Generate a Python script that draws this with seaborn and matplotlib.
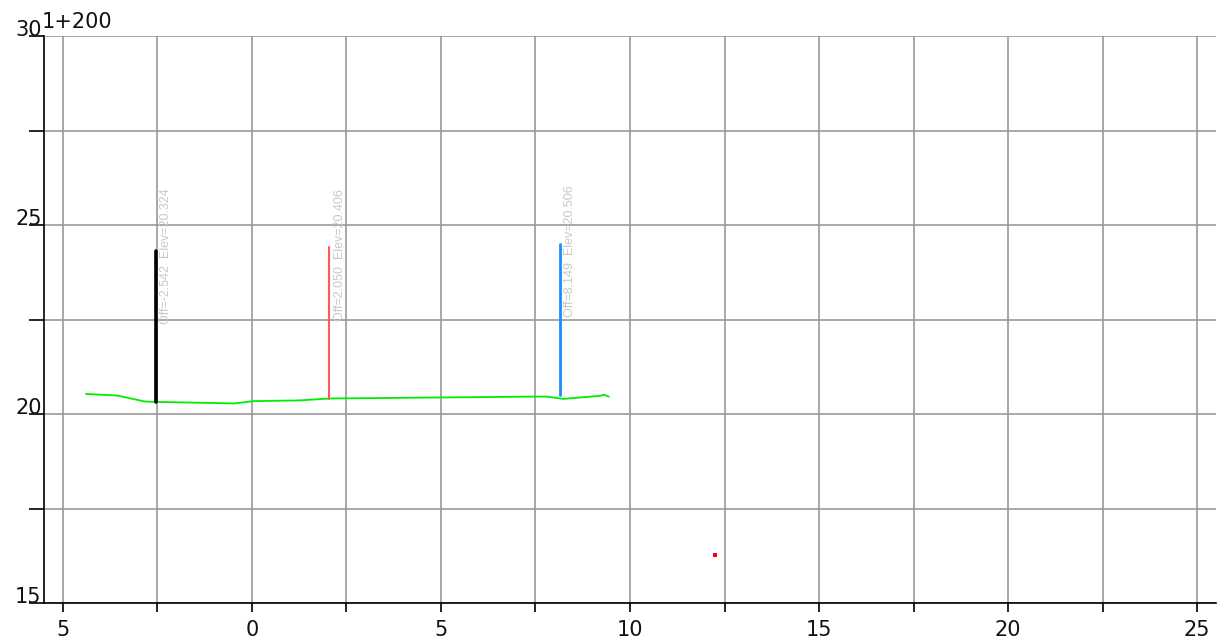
import matplotlib
matplotlib.use("Agg")
import matplotlib.pyplot as plt
import matplotlib.transforms as mtransforms
import seaborn as sns
import pandas as pd

# ---- data ----
station = "1+200"
ground_off = [-4.39, -3.57, -2.83, -2.54, -0.45, 0.03, 1.27, 2.05, 7.43, 7.80, 8.23, 9.21, 9.31, 9.44]
ground_elev = [20.53, 20.49, 20.33, 20.32, 20.28, 20.34, 20.36, 20.41, 20.46, 20.46, 20.40, 20.48, 20.51, 20.46]
marker_off = [-2.542, 2.050, 8.149]
marker_elev = [20.324, 20.406, 20.506]
marker_height = [4.0, 4.0, 4.0]
marker_colors = ["#000000", "#ff5a5a", "#1a8cff"]
marker_widths = [2.6, 1.5, 2.0]
point_off = [12.25]
point_elev = [16.27]
x_ticks = [-5, -2.5, 0, 2.5, 5, 7.5, 10, 12.5, 15, 17.5, 20, 22.5, 25]
x_labels = ["5", "", "0", "", "5", "", "10", "", "15", "", "20", "", "25"]
y_ticks = [15, 17.5, 20, 22.5, 25, 27.5, 30]
y_labels = ["15", "", "20", "", "25", "", "30"]

sns.set_style("white")
plt.rcParams["font.family"] = ["DejaVu Sans"]
plt.rcParams["text.color"] = "#111111"
plt.rcParams["xtick.color"] = "#111111"

fig = plt.figure(figsize=(12.24, 6.42), dpi=100)
ax = fig.add_axes([44 / 1224, 39 / 642, (1216 - 44) / 1224, (603 - 36) / 642])

ax.set_xlim(-5.5, 25.5)
ax.set_ylim(15, 30)

# grid
for xv in x_ticks:
    ax.axvline(xv, color="#999999", lw=1.2, zorder=0)
for yv in y_ticks:
    ax.axhline(yv, color="#999999", lw=1.2, zorder=0)

# ground line
gdf = pd.DataFrame({"off": ground_off, "elev": ground_elev})
sns.lineplot(data=gdf, x="off", y="elev", sort=False, estimator=None,
             color="#00ee00", lw=1.3, ax=ax, zorder=3)

# vertical markers with labels
for o, e, h, c, w in zip(marker_off, marker_elev, marker_height, marker_colors, marker_widths):
    vdf = pd.DataFrame({"off": [o, o], "elev": [e, e + h]})
    sns.lineplot(data=vdf, x="off", y="elev", sort=False, estimator=None,
                 color=c, lw=w, ax=ax, zorder=4)
    ax.text(o + 0.27, e + 2.05, f"Off={o:.3f}  Elev={e:.3f}", rotation=90,
            ha="center", va="bottom", fontsize=9, color="#c8c8c8", zorder=5,
            family="Liberation Sans")

ax.scatter(point_off, point_elev, marker="s", s=5, color="#ff0000", zorder=5, linewidths=0)

# spines
for s in ["top", "right"]:
    ax.spines[s].set_visible(False)
ax.spines["left"].set_color("black")
ax.spines["bottom"].set_color("black")
ax.spines["left"].set_linewidth(1.2)
ax.spines["bottom"].set_linewidth(1.2)

ax.set_xticks(x_ticks)
ax.set_xticklabels(x_labels, fontsize=15, color="#111111")
ax.set_yticks(y_ticks)
ax.set_yticklabels([])
ax.tick_params(axis="x", direction="out", length=6.5, width=1.2, color="black", pad=6, bottom=True)
ax.tick_params(axis="y", direction="out", length=11, width=1.2, color="black", left=True)
ax.set_xlabel("")
ax.set_ylabel("")

trans = mtransforms.blended_transform_factory(ax.transAxes, ax.transData)
for yv, lab in zip(y_ticks, y_labels):
    if lab:
        ax.text(-0.002, yv, lab, transform=trans, ha="right", va="baseline", fontsize=15)

ax.text(-0.002, 30.2, station, transform=trans, ha="left", va="baseline", fontsize=15)

fig.savefig("out.png", dpi=100)
